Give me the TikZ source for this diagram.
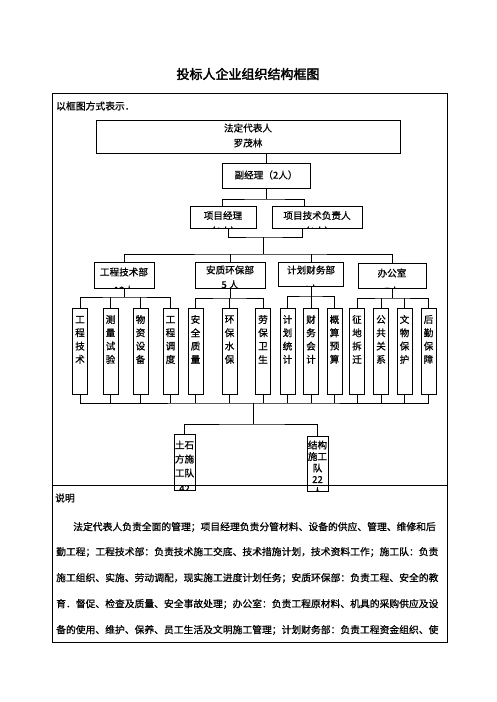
\documentclass[tikz,border=0pt]{standalone}
\usepackage{fontspec}
\setmainfont[FakeBold=0.7]{Noto Sans CJK SC}
\newfontfamily\titlefont[FakeBold=2.5]{Noto Sans CJK SC}
\XeTeXlinebreaklocale "zh"
\XeTeXlinebreakskip=0pt plus 3pt
\tikzset{
  lbox/.style={draw, line width=0.8pt, inner sep=0pt, anchor=center},
  conn/.style={line width=0.8pt},
  txt/.style={inner sep=0pt, font=\fontsize{9.6}{11}\selectfont},
  ptxt/.style={inner sep=0pt, anchor=west, font=\fontsize{9.8}{12}\selectfont},
}
\newcommand\subbox[6]{%
  \node[lbox, minimum width=15, minimum height=86] (#1) at (#2,351) {};
  \node[txt] (#1a) at (#2,319.5) {#3};
  \node[txt] (#1b) at (#2,332.8) {#4};
  \node[txt] (#1c) at (#2,346.1) {#5};
  \node[txt] (#1d) at (#2,359.4) {#6};}
\begin{document}
\begin{tikzpicture}[x=1pt,y=-1pt]
\useasboundingbox (0,0) rectangle (496,702);
% title
\node[inner sep=0pt, font=\titlefont\fontsize{13}{15}\selectfont] (title) at (248,74) {投标人企业组织结构框图};
% frame
\node[draw, line width=0.9pt, inner sep=0pt, minimum width=395, minimum height=549] (frame) at (249.5,367.5) {};
\coordinate (dv) at (0,485);
\draw[line width=0.9pt] (frame.west |- dv) -- (frame.east |- dv);
\node[ptxt] (intro) at (56,106) {以框图方式表示．};
% top boxes
\node[lbox, minimum width=304, minimum height=33] (b1) at (248,136.5) {};
\node[txt] (b1a) at (248,128) {法定代表人};
\node[txt] (b1b) at (248,143) {罗茂林};
\node[lbox, minimum width=88, minimum height=25] (b2) at (266,175.5) {};
\node[txt] (b2a) at (266,175) {副经理（2人）};
\node[lbox, minimum width=66, minimum height=22] (b3) at (223,217) {};
\node[txt] (b3a) at (223,215.5) {项目经理};
\node[lbox, minimum width=90, minimum height=22] (b4) at (317,217) {};
\node[txt] (b4a) at (317,215.5) {项目技术负责人};
\begin{scope}
\clip (b3.south west) rectangle (b3.north east);
\node[txt] (b3b) at (223,231) {（6人）};
\end{scope}
\begin{scope}
\clip (b4.south west) rectangle (b4.north east);
\node[txt] (b4b) at (317,231) {（6人）};
\end{scope}
% departments
\node[lbox, minimum width=60, minimum height=26] (d1) at (124,275) {};
\node[txt] (d1a) at (124,272) {工程技术部};
\node[lbox, minimum width=70, minimum height=26] (d2) at (230,275) {};
\node[txt] (d2a) at (230,270) {安质环保部};
\node[lbox, minimum width=65, minimum height=24] (d3) at (311,274) {};
\node[txt] (d3a) at (311,270) {计划财务部};
\node[lbox, minimum width=68, minimum height=25] (d4) at (392,275.5) {};
\node[txt] (d4a) at (392,273) {办公室};
\begin{scope}
\clip (d1.south west) rectangle (d1.north east);
\node[txt] (d1b) at (124,290) {12人};
\end{scope}
\begin{scope}
\clip (d2.south west) rectangle (d2.north east);
\node[txt] (d2b) at (230,284.5) {5 人};
\end{scope}
\begin{scope}
\clip (d3.south west) rectangle (d3.north east);
\node[txt] (d3b) at (311,289) {4人};
\end{scope}
\begin{scope}
\clip (d4.south west) rectangle (d4.north east);
\node[txt] (d4b) at (392,291) {7人};
\end{scope}
% sub boxes
\subbox{s1}{80}{工}{程}{技}{术}
\subbox{s2}{110.5}{测}{量}{试}{验}
\subbox{s3}{140.5}{物}{资}{设}{备}
\subbox{s4}{170.5}{工}{程}{调}{度}
\subbox{s5}{195.5}{安}{全}{质}{量}
\subbox{s6}{229.5}{环}{保}{水}{保}
\subbox{s7}{263}{劳}{保}{卫}{生}
\subbox{s8}{287.5}{计}{划}{统}{计}
\subbox{s9}{311}{财}{务}{会}{计}
\subbox{s10}{334.5}{概}{算}{预}{算}
\subbox{s11}{357}{征}{地}{拆}{迁}
\subbox{s12}{381}{公}{共}{关}{系}
\subbox{s13}{404.5}{文}{物}{保}{护}
\subbox{s14}{428.5}{后}{勤}{保}{障}
% teams
\node[lbox, minimum width=21, minimum height=56] (t1) at (184.5,462) {};
\node[lbox, minimum width=21, minimum height=55] (t2) at (317.5,463.5) {};
\begin{scope}
\clip (t1.south west) rectangle (t1.north east);
\node[txt] (t1a) at (184.5,445) {土石};
\node[txt] (t1b) at (184.5,459) {方施};
\node[txt] (t1c) at (184.5,473) {工队};
\node[txt] (t1d) at (184.5,488.5) {42};
\end{scope}
\begin{scope}
\clip (t2.south west) rectangle (t2.north east);
\node[txt] (t2a) at (317.5,445) {结构};
\node[txt] (t2b) at (317.5,456.5) {施工};
\node[txt] (t2c) at (317.5,468) {队};
\node[txt] (t2d) at (317.5,479.5) {22};
\node[txt] (t2e) at (317.5,491.5) {人};
\end{scope}
% connectors
\coordinate (j1) at (266,199);
\coordinate (j2) at (263,237);
\coordinate (j3) at (263,254);
\draw[conn] (b2.north |- b1.south) -- (b2.north);
\draw[conn] (b2.south) -- (j1);
\draw[conn] ([xshift=-1]b3.north) |- (j1) -| ([xshift=-13]b4.north);
\draw[conn] ([xshift=5]b3.south) |- (j2) -| ([xshift=-15]b4.south);
\draw[conn] (j2) -- (j3);
\draw[conn] (d1.north) |- (j3) -| (d4.north);
\draw[conn] (d2.north) -- (d2.north |- j3);
\draw[conn] (d3.north) -- (d3.north |- j3);
\coordinate (k1) at (124,297);
\coordinate (k2) at (230,298);
\coordinate (k3) at (311,296);
\coordinate (k4) at (392,298);
\draw[conn] (d1.south) -- (k1);
\draw[conn] (s1.north) |- (k1) -| (s4.north);
\draw[conn] (s2.north) -- (s2.north |- k1);
\draw[conn] (s3.north) -- (s3.north |- k1);
\draw[conn] (d2.south) -- (k2);
\draw[conn] (s5.north) |- (k2) -| (s7.north);
\draw[conn] (s6.north) -- (s6.north |- k2);
\draw[conn] (d3.south) -- (k3);
\draw[conn] (s8.north) |- (k3) -| (s10.north);
\draw[conn] (s9.north) -- (s9.north |- k3);
\draw[conn] (d4.south) -- (k4);
\draw[conn] (s11.north) |- (k4) -| (s14.north);
\draw[conn] (s12.north) -- (s12.north |- k4);
\draw[conn] (s13.north) -- (s13.north |- k4);
\coordinate (bb) at (253,403);
\coordinate (bc) at (253,424);
\draw[conn] (s1.south) |- (bb) -| (s14.south);
\foreach \s in {s2,s3,s4,s5,s6,s7,s8,s9,s10,s11,s12,s13}
  \draw[conn] (\s.south) -- (\s.south |- bb);
\draw[conn] (bb) -- (bc);
\draw[conn] (t1.north) |- (bc) -| (t2.north);
% explanation
\node[ptxt] (sm) at (55,498) {说明};
\node[ptxt] (p1) at (73,527) {\makebox[370pt][s]{法定代表人负责全面的管理；项目经理负责分管材料、设备的供应、管理、维修和后}};
\node[ptxt] (p2) at (56,552) {\makebox[387pt][s]{勤工程；工程技术部：负责技术施工交底、技术措施计划，技术资料工作；施工队：负责}};
\node[ptxt] (p3) at (56,578) {\makebox[387pt][s]{施工组织、实施、劳动调配，现实施工进度计划任务；安质环保部：负责工程、安全的教}};
\node[ptxt] (p4) at (56,604) {\makebox[387pt][s]{育．督促、检查及质量、安全事故处理；办公室：负责工程原材料、机具的采购供应及设}};
\node[ptxt] (p5) at (56,630) {\makebox[387pt][s]{备的使用、维护、保养、员工生活及文明施工管理；计划财务部：负责工程资金组织、使}};
\end{tikzpicture}
\end{document}
